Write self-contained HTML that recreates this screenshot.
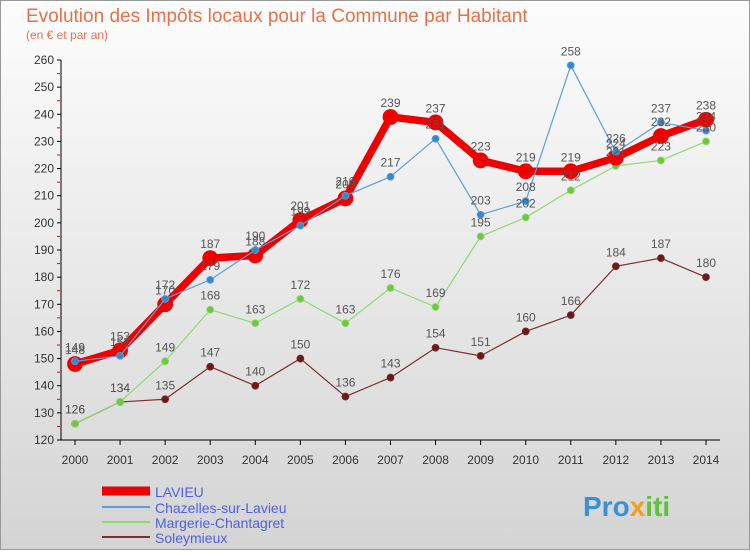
<!DOCTYPE html>
<html><head><meta charset="utf-8"><style>
body{margin:0;width:750px;height:550px;overflow:hidden;font-family:"Liberation Sans",sans-serif}
</style></head><body>
<svg width="750" height="550" xmlns="http://www.w3.org/2000/svg" id="svg">
<defs><linearGradient id="bg" x1="0" y1="0" x2="0" y2="1"><stop offset="0" stop-color="#fdfdfd"/><stop offset="1" stop-color="#d4d4d4"/></linearGradient></defs>
<rect x="0.5" y="0.5" width="749" height="549" fill="url(#bg)" stroke="#999"/>
<text x="26" y="22" font-size="19" fill="#e87048" style="font-weight:300">Evolution des Impôts locaux pour la Commune par Habitant</text>
<text x="26" y="39" font-size="12" fill="#e87048">(en € et par an)</text>
<g id="axes"></g><g id="series"></g><g id="labels"></g>
<g>
<line x1="102" y1="491" x2="150" y2="491" stroke="#e00" stroke-width="9"/>
<text x="155" y="497" font-size="14" fill="#5060e0">LAVIEU</text>
<line x1="102" y1="507" x2="150" y2="507" stroke="#5aa0d8" stroke-width="2"/>
<text x="155" y="513" font-size="14" fill="#5060e0">Chazelles-sur-Lavieu</text>
<line x1="102" y1="522" x2="150" y2="522" stroke="#90d870" stroke-width="2"/>
<text x="155" y="528" font-size="14" fill="#5060e0">Margerie-Chantagret</text>
<line x1="102" y1="537" x2="150" y2="537" stroke="#7a3030" stroke-width="2"/>
<text x="155" y="543" font-size="14" fill="#5060e0">Soleymieux</text>
</g>
<text x="583" y="516" font-size="28" font-weight="bold" fill="#3a8fd8">Pro<tspan fill="#f0a020">x</tspan><tspan fill="#60c040">iti</tspan></text>
</svg>
<script>
const years=["2000","2001","2002","2003","2004","2005","2006","2007","2008","2009","2010","2011","2012","2013","2014"];
const yTicks=[120,130,140,150,160,170,180,190,200,210,220,230,240,250,260];
const lavieu=[148,153,170,187,188,201,209,239,237,223,219,219,224,232,238];
const chazelles=[149,151,172,179,190,199,210,217,231,203,208,258,226,237,234];
const margerie=[126,134,149,168,163,172,163,176,169,195,202,212,221,223,230];
const soleymieux=[126,134,135,147,140,150,136,143,154,151,160,166,184,187,180];
const NS="http://www.w3.org/2000/svg";
const X=i=>75+i*(706-75)/14, Y=v=>440-(v-120)*(380/140);
function mk(t,a,p){const e=document.createElementNS(NS,t);for(const k in a)e.setAttribute(k,a[k]);p.appendChild(e);return e;}
const ax=document.getElementById('axes');
const yl=mk('line',{x1:61,y1:60,x2:61,y2:440,stroke:'#000'},ax);


const xl=mk('line',{x1:61,y1:440,x2:720,y2:440,stroke:'#000'},ax);


yTicks.forEach(v=>{mk('line',{x1:57,y1:Y(v),x2:61,y2:Y(v),stroke:'#000'},ax);
if(v<260)mk('line',{x1:57,y1:Y(v+5),x2:60,y2:Y(v+5),stroke:'#e00'},ax);
const t=mk('text',{x:54,y:Y(v)+4,'font-size':12,'text-anchor':'end',fill:'#333'},ax);t.textContent=v;

});
years.forEach((y,i)=>{mk('line',{x1:X(i),y1:440,x2:X(i),y2:445,stroke:'#000'},ax);
const t=mk('text',{x:X(i),y:464,'font-size':12,'text-anchor':'middle',fill:'#333'},ax);t.textContent=y;

});
const sg=document.getElementById('series'),lg=document.getElementById('labels');
function draw(d,col,w,r,name,fill){
const p=mk('polyline',{points:d.map((v,i)=>X(i)+','+Y(v)).join(' '),fill:'none',stroke:col,'stroke-width':w,'stroke-linejoin':'round'},sg);


d.forEach((v,i)=>{const c=mk('circle',{cx:X(i),cy:Y(v),r:r,fill:fill,stroke:col,'stroke-width':0.8},sg);


const t=mk('text',{x:X(i),y:Y(v)-10,'font-size':12,'text-anchor':'middle',fill:'#555'},lg);t.textContent=v;

});}
draw(soleymieux,'#7a3030',1.2,3.5,'soleymieux','#6a1a1a');
draw(margerie,'#90d870',1.2,3.5,'margerie','#70c840');
draw(lavieu,'#e00',7.5,7.5,'lavieu','#e00');
draw(chazelles,'#5aa0d8',1.2,3.5,'chazelles','#3a88c8');
</script>
</body></html>
